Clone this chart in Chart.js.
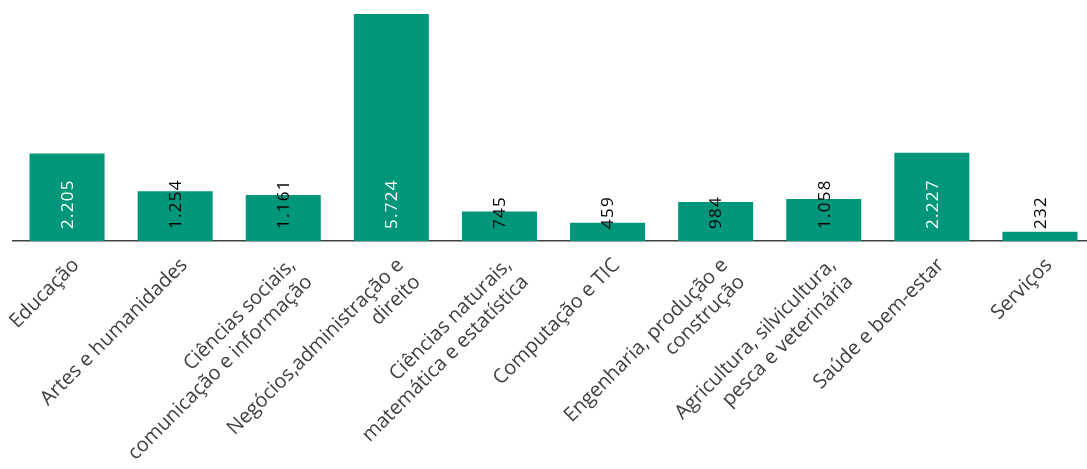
<!DOCTYPE html>
<html><head><meta charset="utf-8">
<script src="https://cdn.jsdelivr.net/npm/chart.js@4.4.0/dist/chart.umd.min.js"></script>
<style>html,body{margin:0;padding:0;background:#fff;overflow:hidden}</style>
</head><body>
<canvas id="c" width="1094" height="469"></canvas>
<script>
const categories = [
  ["Educação"],
  ["Artes e humanidades"],
  ["Ciências sociais,", "comunicação e informação"],
  ["Negócios,administração e", "direito"],
  ["Ciências naturais,", "matemática e estatística"],
  ["Computação e TIC"],
  ["Engenharia, produção e", "construção"],
  ["Agricultura, silvicultura,", "pesca e veterinária"],
  ["Saúde e bem-estar"],
  ["Serviços"]
];
const values = [2205, 1254, 1161, 5724, 745, 459, 984, 1058, 2227, 232];
const yMax = 6000;

function fmt(v){ return String(v).replace(/\B(?=(\d{3})+(?!\d))/g, '.'); }

const BAR = '#00967A';
const LABEL_FONT = '20px "Open Sans"';
const VALUE_FONT = '17px "Open Sans"';

const labelPlugin = {
  id: 'customLabels',
  afterDatasetsDraw(chart) {
    const ctx = chart.ctx;
    const meta = chart.getDatasetMeta(0);
    meta.data.forEach((el, i) => {
      const txt = fmt(values[i]);
      ctx.save();
      ctx.font = VALUE_FONT;
      ctx.letterSpacing = '1.3px';
      const w = ctx.measureText(txt).width;
      const h = el.base - el.y;
      ctx.fillStyle = (h > w + 20) ? '#ffffff' : '#000000';
      ctx.translate(el.x, el.base - 12);
      ctx.rotate(-Math.PI / 2);
      ctx.textAlign = 'left';
      ctx.textBaseline = 'middle';
      ctx.fillText(txt, 0, 1);
      ctx.restore();
    });
  },
  afterDraw(chart) {
    const ctx = chart.ctx;
    const xs = chart.scales.x;
    const y0 = chart.chartArea.bottom;
    categories.forEach((lines, i) => {
      const x = xs.getPixelForTick(i);
      ctx.save();
      ctx.font = LABEL_FONT;
      ctx.fillStyle = '#404040';
      ctx.textAlign = 'right';
      ctx.textBaseline = 'middle';
      ctx.translate(x + 9, y0 + 21);
      ctx.rotate(-Math.PI / 4);
      lines.forEach((ln, k) => ctx.fillText(ln, 0, k * 24));
      ctx.restore();
    });
  }
};

new Chart(document.getElementById('c'), {
  type: 'bar',
  data: {
    labels: categories,
    datasets: [{
      data: values,
      backgroundColor: BAR,
      borderWidth: 0,
      categoryPercentage: 1,
      barPercentage: 0.694
    }]
  },
  options: {
    responsive: false,
    animation: false,
    devicePixelRatio: 1,
    layout: { padding: { left: 13, top: 3, right: 0, bottom: 0 } },
    plugins: { legend: { display: false }, tooltip: { enabled: false } },
    scales: {
      x: {
        grid: { display: false },
        border: { display: true, color: '#404040', width: 1.5 },
        ticks: { display: false },
        afterFit: s => { s.height = 228; }
      },
      y: { display: false, min: 0, max: yMax }
    }
  },
  plugins: [labelPlugin]
});
</script>
</body></html>
